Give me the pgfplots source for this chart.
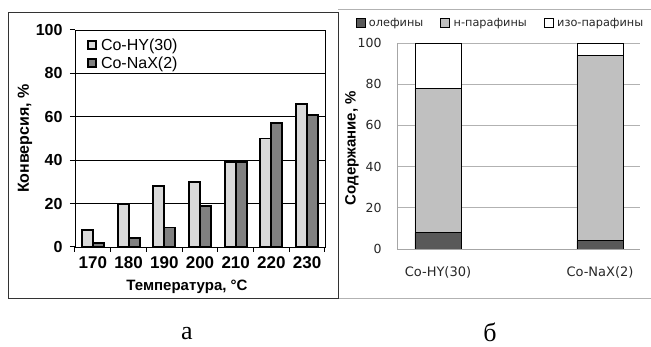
\documentclass[border=0pt]{standalone}
\usepackage{pgfplots}
\pgfplotsset{compat=1.18}
\usepackage{fontspec}
\setmainfont{Liberation Sans}
\newfontfamily\tahoma{DejaVu Sans}
\newfontfamily\seriff{Liberation Serif}
\definecolor{hy}{HTML}{D9D9D9}
\definecolor{nax}{HTML}{808080}
\definecolor{ole}{HTML}{595959}
\definecolor{npar}{HTML}{C0C0C0}
\begin{document}
\begin{tikzpicture}[x=1pt,y=1pt]
\path[use as bounding box] (0,0) rectangle (651,347);
% panel frames
\draw[gray!60, line width=1pt] (338,337) -- (651,337);
\draw[gray!60, line width=1pt] (338,48) -- (651,48);
\draw[black!80, line width=0.9pt] (8,335) rectangle (338,49);
% left chart
\begin{axis}[at={(75pt,100pt)}, anchor=south west, scale only axis,
  width=250pt, height=217pt,
  ymin=0, ymax=100, ytick={0,20,...,100},
  xmin=-0.5, xmax=6.5,
  xtick={0,...,6}, xticklabels={170,180,190,200,210,220,230},
  minor xtick={-0.5,0.5,...,6.5},
  major x tick style={draw=none},
  tick align=outside, tick pos=left,
  major tick length=5pt, minor tick length=5pt,
  every tick/.style={black, line width=1pt},
  ymajorgrids, grid style={black, line width=0.7pt},
  axis line style={black, line width=0.8pt},
  /pgf/number format/assume math mode=true,
  xticklabel style={font=\bfseries\fontsize{17}{17}\selectfont, yshift=-1pt},
  yticklabel style={font=\bfseries\fontsize{16}{16}\selectfont, xshift=-4pt},
  ylabel={Конверсия, \%},
  ylabel style={font=\bfseries\fontsize{16}{16}\selectfont, at={(axis description cs:-0.2,0.5)}, anchor=center},
  xlabel={Температура, °C},
  xlabel style={font=\bfseries\fontsize{15}{15}\selectfont, at={(axis description cs:0.448,-0.184)}, anchor=center},
  legend style={at={(axis description cs:0.045,0.975)}, anchor=north west, draw=none, fill=white,
    font=\fontsize{16}{16}\selectfont, row sep=1pt, inner sep=1pt,
    /tikz/every odd column/.append style={column sep=2pt}},
  legend cell align=left,
  ybar, bar width=11pt,
]
\addplot[fill=hy, draw=black, line width=1.9pt, bar shift=-5.5pt,
  legend image code/.code={\draw[fill=hy, draw=black, line width=1.6pt] (0pt,-4pt) rectangle (8pt,4pt);}]
  coordinates {(0,8)(1,20)(2,28)(3,30)(4,39)(5,50)(6,66)};
\addplot[fill=nax, draw=black, line width=1.9pt, bar shift=5.5pt,
  legend image code/.code={\draw[fill=nax, draw=black, line width=1.6pt] (0pt,-4pt) rectangle (8pt,4pt);}]
  coordinates {(0,2)(1,4)(2,9)(3,19)(4,39)(5,57)(6,61)};
\legend{Co-HY(30),Co-NaX(2)}
\end{axis}
% right chart
\begin{axis}[at={(397pt,98pt)}, anchor=south west, scale only axis,
  width=243pt, height=206pt,
  ymin=0, ymax=100, ytick={0,20,...,100},
  xmin=-0.253, xmax=1.247,
  xtick={0,1}, xticklabels={Co-HY(30),Co-NaX(2)},
  major tick length=0pt,
  axis x line*=bottom, axis y line*=left,
  axis line style={gray!70, line width=0.8pt, -},
  ymajorgrids, grid style={gray!60, line width=0.8pt},
  /pgf/number format/assume math mode=true,
  xticklabel style={font=\tahoma\fontsize{13}{13}\selectfont, text=black!85, yshift=-14pt},
  yticklabel style={font=\tahoma\fontsize{12.5}{12.5}\selectfont, text=black!85, xshift=-12pt},
  ylabel={Содержание, \%},
  ylabel style={font=\bfseries\fontsize{15}{15}\selectfont, at={(axis description cs:-0.185,0.49)}, anchor=center},
  legend style={at={(axis description cs:-0.175,1.097)}, anchor=west, draw=none, fill=none,
    font=\tahoma\fontsize{11.3}{11.3}\selectfont, text=black!85, inner sep=1pt,
    /tikz/every odd column/.append style={column sep=1.5pt},
    /tikz/every even column/.append style={column sep=15pt}},
  legend columns=3,
  ybar stacked, bar width=46pt,
]
\addplot[fill=ole, draw=black, line width=0.8pt,
  legend image code/.code={\draw[fill=ole, draw=black, line width=0.8pt] (0pt,-4.5pt) rectangle (9pt,4.5pt);}]
  coordinates {(0,8)(1,4)};
\addplot[fill=npar, draw=black, line width=0.8pt,
  legend image code/.code={\draw[fill=npar, draw=black, line width=0.8pt] (0pt,-4.5pt) rectangle (9pt,4.5pt);}]
  coordinates {(0,70)(1,90)};
\addplot[fill=white, draw=black, line width=0.8pt,
  legend image code/.code={\draw[fill=white, draw=black, line width=0.8pt] (0pt,-4.5pt) rectangle (9pt,4.5pt);}]
  coordinates {(0,22)(1,6)};
\legend{олефины,н-парафины,изо-парафины}
\end{axis}
\node[font=\seriff\fontsize{26}{26}\selectfont] at (187,13) {а};
\node[font=\seriff\fontsize{26}{26}\selectfont] at (490,15) {б};
\end{tikzpicture}
\end{document}
